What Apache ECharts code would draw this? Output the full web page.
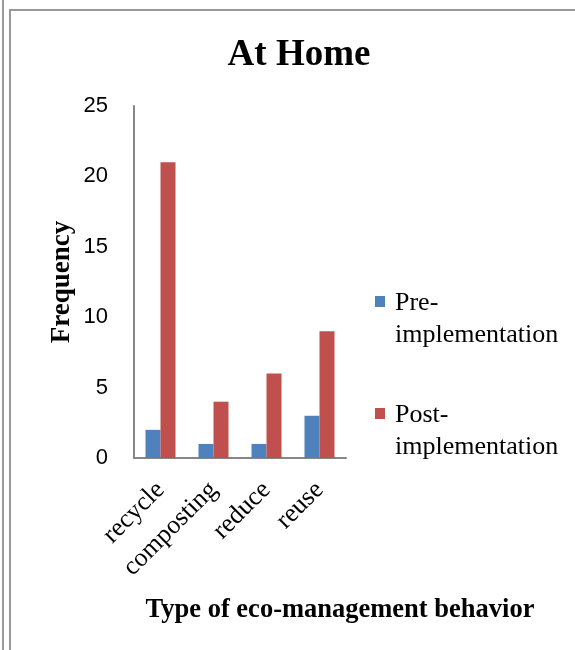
<!DOCTYPE html>
<html><head><meta charset="utf-8">
<script src="https://cdn.jsdelivr.net/npm/echarts@6/dist/echarts.min.js"></script>
<style>html,body{margin:0;padding:0;background:#fff}#c{width:575px;height:650px}</style>
</head><body><div id="c"></div>
<script>
const categories = ['recycle', 'composting', 'reduce', 'reuse'];
const preValues = [2, 1, 1, 3];
const postValues = [21, 4, 6, 9];
const seriesNames = ['Pre-implementation', 'Post-implementation'];
const yTicks = [0, 5, 10, 15, 20, 25];

const SERIF = '"Liberation Serif", "Times New Roman", serif';
const SANS = '"Liberation Sans", Arial, sans-serif';
const chart = echarts.init(document.getElementById('c'));
chart.setOption({
  animation: false,
  backgroundColor: '#fff',
  title: {text: 'At Home', left: 294, top: 32, textAlign: 'center',
    textStyle: {fontFamily: SERIF, fontWeight: 'bold', fontSize: 37, color: '#000'}},
  grid: {left: 134, right: 229, top: 106, bottom: 192, containLabel: false},
  xAxis: {type: 'category', data: categories,
    axisLine: {lineStyle: {color: '#868686', width: 2}},
    axisTick: {show: false},
    axisLabel: {rotate: 45, interval: 0, margin: 28, fontFamily: SERIF, fontSize: 26, color: '#000'},
    name: 'Type of eco-management behavior', nameLocation: 'middle', nameGap: 139,
    nameTextStyle: {fontFamily: SERIF, fontWeight: 'bold', fontSize: 26.5, color: '#000', padding: [0,0,0,200]}
  },
  yAxis: {type: 'value', min: yTicks[0], max: yTicks[yTicks.length-1], interval: 5,
    axisLine: {show: true, lineStyle: {color: '#868686', width: 2}},
    axisTick: {show: false}, splitLine: {show: false},
    axisLabel: {margin: 26, fontFamily: SANS, fontSize: 22, color: '#000'},
    name: 'Frequency', nameLocation: 'middle', nameGap: 58,
    nameTextStyle: {fontFamily: SERIF, fontWeight: 'bold', fontSize: 27, color: '#000'}
  },
  series: [
    {name: seriesNames[0], type: 'bar', data: preValues, barWidth: 15, barGap: '0%', itemStyle: {color: '#4F81BD'}},
    {name: seriesNames[1], type: 'bar', data: postValues, barWidth: 15, barGap: '0%', itemStyle: {color: '#C0504D'}}
  ],
  graphic: [
    {type: 'line', shape: {x1: 3, y1: 0, x2: 3, y2: 650}, style: {stroke: '#999', lineWidth: 2}},
    {type: 'line', shape: {x1: 10, y1: 9, x2: 10, y2: 650}, style: {stroke: '#999', lineWidth: 2}},
    {type: 'line', shape: {x1: 9, y1: 10, x2: 575, y2: 10}, style: {stroke: '#999', lineWidth: 2}},
    {type: 'rect', shape: {x: 375, y: 296, width: 10, height: 11}, style: {fill: '#4F81BD'}},
    {type: 'text', x: 395, y: 287, style: {text: 'Pre-\nimplementation', fontFamily: SERIF, fontSize: 26, lineHeight: 32, fill: '#000'}},
    {type: 'rect', shape: {x: 375, y: 408, width: 10, height: 11}, style: {fill: '#C0504D'}},
    {type: 'text', x: 395, y: 399, style: {text: 'Post-\nimplementation', fontFamily: SERIF, fontSize: 26, lineHeight: 32, fill: '#000'}}
  ]
});
</script></body></html>
